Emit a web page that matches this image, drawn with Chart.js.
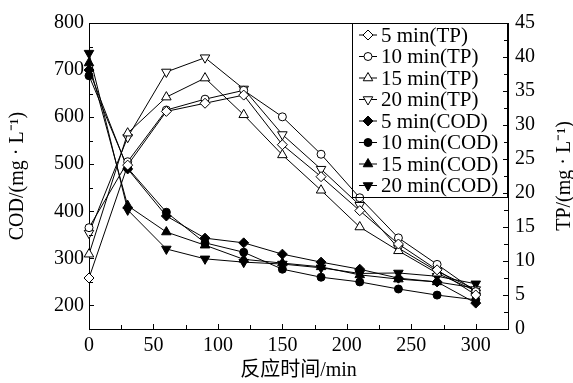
<!DOCTYPE html>
<html lang="zh">
<head>
<meta charset="UTF-8">
<title>COD 与 TP 随反应时间变化</title>
<script src="https://cdn.jsdelivr.net/npm/chart.js"></script>
<style>
    body { margin: 0; background: #ffffff; }
</style>
</head>
<body>
<canvas id="chart" width="573" height="383"></canvas>
<script>
// reaction time (min)
const times = [0, 30, 60, 90, 120, 150, 180, 210, 240, 270, 300];

// TP, mg/L (right axis)
const tp5  = [7.5, 24.1, 32.0, 33.2, 34.4, 27.1, 22.4, 17.4, 12.5, 8.7, 5.0];
const tp10 = [14.9, 24.6, 32.2, 33.8, 35.1, 31.2, 25.7, 19.3, 13.4, 9.5, 5.5];
const tp15 = [11.0, 28.8, 34.1, 36.9, 31.5, 25.6, 20.4, 15.0, 11.5, 8.2, 5.6];
const tp20 = [14.1, 28.2, 37.8, 39.9, 35.3, 28.6, 23.5, 18.2, 11.9, 8.5, 5.8];

// COD, mg/L (left axis)
const cod5  = [700, 490, 390, 343, 333, 309, 292, 277, 258, 250, 205];
const cod10 = [688, 492, 398, 333, 313, 277, 260, 250, 235, 222, 212];
const cod15 = [715, 412, 356, 328, 298, 290, 282, 265, 256, 250, 237];
const cod20 = [736, 403, 320, 299, 292, 288, 280, 268, 269, 262, 246];

const FONT = '"Liberation Serif", "Noto Sans CJK SC", serif';

function pairs(ys) {
    return times.map((t, i) => ({ x: t, y: ys[i] }));
}

function series(label, ys, axis, style, filled, rot) {
    return {
        label: label,
        data: pairs(ys),
        yAxisID: axis,
        borderColor: '#000',
        borderWidth: 1,
        pointStyle: style,
        pointRotation: rot || 0,
        pointRadius: style === 'circle' ? 4 : (style === 'triangle' ? 5.5 : 5),
        pointBorderWidth: 1,
        pointBorderColor: '#000',
        pointBackgroundColor: filled ? '#000' : '#fff',
        fill: false,
        tension: 0,
        clip: false
    };
}

const datasets = [
    series('5 min(TP)', tp5, 'yR', 'rectRot', false),
    series('10 min(TP)', tp10, 'yR', 'circle', false),
    series('15 min(TP)', tp15, 'yR', 'triangle', false),
    series('20 min(TP)', tp20, 'yR', 'triangle', false, 180),
    series('5 min(COD)', cod5, 'yL', 'rectRot', true),
    series('10 min(COD)', cod10, 'yL', 'circle', true),
    series('15 min(COD)', cod15, 'yL', 'triangle', true),
    series('20 min(COD)', cod20, 'yL', 'triangle', true, 180)
];

// inward ticks, frame, right title and the legend box
const decor = {
    id: 'decor',
    afterDraw(chart) {
        const ctx = chart.ctx;
        const a = chart.chartArea;
        ctx.save();
        ctx.strokeStyle = '#000';
        ctx.lineWidth = 1;

        // top line of the frame
        ctx.beginPath();
        ctx.moveTo(a.left, a.top + 0.5);
        ctx.lineTo(a.right, a.top + 0.5);
        ctx.stroke();

        const sx = chart.scales.x, sl = chart.scales.yL, sr = chart.scales.yR;
        ctx.beginPath();
        sx.ticks.forEach(t => {
            const p = Math.round(sx.getPixelForValue(t.value)) + 0.5;
            const len = t.value % 50 === 0 ? 5 : 4;
            ctx.moveTo(p, a.bottom);
            ctx.lineTo(p, a.bottom - len);
        });
        sl.ticks.forEach(t => {
            const p = Math.round(sl.getPixelForValue(t.value)) + 0.5;
            const len = t.value % 100 === 0 ? 5 : 4;
            ctx.moveTo(a.left, p);
            ctx.lineTo(a.left + len, p);
        });
        sr.ticks.forEach(t => {
            const p = Math.round(sr.getPixelForValue(t.value)) + 0.5;
            const len = t.value % 5 === 0 ? 5 : 4;
            ctx.moveTo(a.right, p);
            ctx.lineTo(a.right - len, p);
        });
        ctx.stroke();

        // right axis title, reading bottom to top
        ctx.fillStyle = '#000';
        ctx.font = '20px ' + FONT;
        ctx.textAlign = 'center';
        ctx.textBaseline = 'middle';
        ctx.translate(565, (a.top + a.bottom) / 2);
        ctx.rotate(-Math.PI / 2);
        ctx.fillText('TP/(mg · L⁻¹)', 0, 0);
        ctx.restore();

        // legend
        ctx.save();
        const lx = 352, ly = a.top, rowH = 21.5;
        ctx.strokeStyle = '#000';
        ctx.lineWidth = 1;
        ctx.strokeRect(lx + 0.5, ly + 0.5, a.right - lx - 1, 174);
        ctx.font = '21px ' + FONT;
        ctx.textAlign = 'left';
        ctx.textBaseline = 'middle';
        chart.data.datasets.forEach((ds, i) => {
            const y = ly + 12 + i * rowH;
            ctx.beginPath();
            ctx.moveTo(359, y);
            ctx.lineTo(377, y);
            ctx.stroke();
            ctx.fillStyle = ds.pointBackgroundColor;
            ctx.strokeStyle = '#000';
            Chart.helpers.drawPoint(ctx, {
                pointStyle: ds.pointStyle,
                rotation: ds.pointRotation,
                radius: ds.pointRadius,
                borderWidth: 1
            }, 368, y);
            ctx.fillStyle = '#000';
            ctx.fillText(ds.label, 381, y + 1);
        });
        ctx.restore();
    }
};

new Chart(document.getElementById('chart'), {
    type: 'line',
    data: { datasets: datasets },
    plugins: [decor],
    options: {
        responsive: false,
        animation: false,
        layout: { padding: { top: 23, right: 0, left: 0, bottom: 0 } },
        plugins: { legend: { display: false }, tooltip: { enabled: false } },
        scales: {
            x: {
                type: 'linear',
                position: 'bottom',
                min: 0,
                max: 325,
                afterFit: s => { s.height = 54; },
                grid: { display: false, drawTicks: false },
                border: { color: '#000', width: 1 },
                ticks: {
                    stepSize: 25,
                    autoSkip: false,
                    maxRotation: 0,
                    padding: 5,
                    color: '#000',
                    font: { family: FONT, size: 20 },
                    callback: v => (v % 50 === 0 ? v : '')
                },
                title: {
                    display: true,
                    text: '反应时间/min',
                    color: '#000',
                    font: { family: FONT, size: 20 },
                    padding: { top: 0, bottom: 0 }
                }
            },
            yL: {
                type: 'linear',
                position: 'left',
                min: 150,
                max: 800,
                afterFit: s => { s.width = 89; },
                grid: { display: false, drawTicks: false },
                border: { color: '#000', width: 1 },
                ticks: {
                    stepSize: 50,
                    autoSkip: false,
                    padding: 5,
                    color: '#000',
                    font: { family: FONT, size: 20 },
                    callback: v => (v % 100 === 0 ? v : '')
                },
                title: {
                    display: true,
                    text: 'COD/(mg · L⁻¹)',
                    color: '#000',
                    font: { family: FONT, size: 20 },
                    padding: { top: 6, bottom: 0 }
                }
            },
            yR: {
                type: 'linear',
                position: 'right',
                min: 0,
                max: 45,
                afterFit: s => { s.width = 65; },
                grid: { display: false, drawTicks: false },
                border: { color: '#000', width: 1 },
                ticks: {
                    stepSize: 2.5,
                    autoSkip: false,
                    padding: 7,
                    color: '#000',
                    font: { family: FONT, size: 20 },
                    callback: v => (v % 5 === 0 ? v : '')
                }
            }
        }
    }
});
</script>
</body>
</html>
